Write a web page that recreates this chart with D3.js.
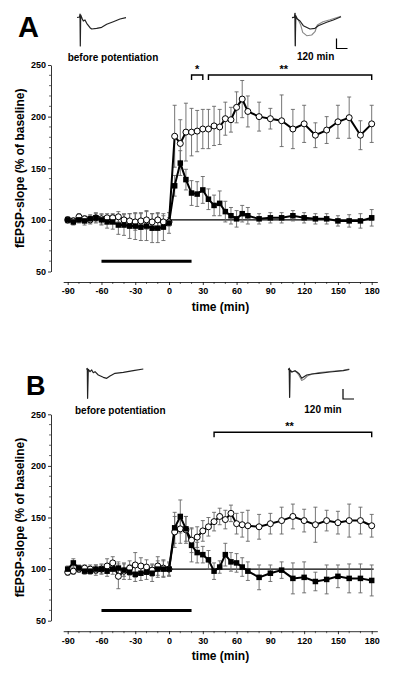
<!DOCTYPE html>
<html>
<head>
<meta charset="utf-8">
<script src="https://cdn.jsdelivr.net/npm/d3@7"></script>
<style>
  html, body { margin: 0; padding: 0; background: #fff; }
  svg { display: block; }
  text { font-family: "Liberation Sans", Arial, Helvetica, sans-serif; font-weight: bold; fill: #000; }
</style>
</head>
<body>
<svg id="chart" width="400" height="678"></svg>
<script>
// ---------- DATA ----------
const times = [-90,-85,-80,-75,-70,-65,-60,-55,-50,-45,-40,-35,-30,-25,-20,-15,-10,-5,0,
  5,10,15,20,25,30,35,40,45,50,55,60,65,70,80,90,100,110,120,130,140,150,160,170,180];

const xTickLabels = [-90,-60,-30,0,30,60,90,120,150,180];
const yTickLabels = [50,100,150,200,250];

// Panel A
const aSquares = [100,98,100,99,101,102,100,98,98,95,95,94,94,93,94,92,92,93,97,
  133,155,139,126,125,129,120,114,116,108,104,101,106,104,101,102,102,104,102,101,101,99,99,99,102];
const aSquaresErr = [3,3,3,4,4,5,5,6,7,9,10,12,13,13,14,14,14,13,10,
  10,12,10,12,12,13,10,10,12,10,8,8,8,8,5,5,5,5,5,5,5,5,6,7,8];
const aCircles = [100,99,103,101,100,102,101,102,102,103,100,99,98,99,100,98,100,98,98,
  181,174,185,185,186,188,188,191,190,198,197,209,217,205,200,198,196,188,193,182,187,195,199,182,193];
const aCirclesErr = [3,3,3,3,4,4,5,4,4,5,6,7,8,8,9,8,7,6,4,
  30,23,28,23,20,19,19,19,17,16,12,15,18,15,14,10,25,19,18,12,13,16,20,14,18];

// Panel B
const bSquares = [100,106,101,98,98,100,100,98,100,101,99,97,95,96,97,96,100,100,100,
  140,151,139,123,116,114,109,98,102,114,107,106,102,98,92,96,99,91,92,88,90,93,91,91,89];
const bSquaresErr = [3,4,3,3,3,4,4,5,5,6,6,7,7,7,7,8,8,8,7,
  15,16,12,16,10,8,9,8,6,11,9,9,9,9,12,8,8,15,15,9,14,11,14,14,15];
const bCircles = [97,98,100,101,100,99,100,103,106,93,98,101,104,103,102,99,103,101,100,
  136,139,138,128,131,137,141,146,151,148,154,144,143,142,141,144,147,151,147,143,147,145,147,147,142];
const bCirclesErr = [3,3,3,3,4,5,5,7,6,12,8,7,12,8,7,6,9,8,6,
  15,14,13,12,10,10,9,9,8,9,8,10,12,15,12,10,13,12,11,17,10,11,16,13,11];

// baseline reference, stimulation bar, significance brackets
const refLine = { from: 0, to: 180, value: 100 };
const stimBar = { from: -60, to: 20, value: 60 };
const aBrackets = [ { from: 20, to: 30, label: "*", labelAt: 25 }, { from: 35, to: 180, label: "**", labelAt: 102 } ];
const bBrackets = [ { from: 40, to: 180, label: "**", labelAt: 107 } ];

// Example fEPSP traces (relative ms, relative mV)
const aTraceBefore = [[-3,0],[-0.5,0.5],[0,3.5],[0.3,-28.5],[0.7,2.5],[2,-0.8],[3.3,-3.5],[5,-2.5],[6.7,-5.8],[10,-10.2],[11.7,-11.5],[16.7,-10.8],[21.7,-9.8],[26.7,-6.8],[33.3,-4.2],[40,-1.5],[46,-0.2]];
const aTraceAfterBase = [[-3,0],[-0.5,0.5],[0,4.4],[0.3,-28],[0.7,2],[2,-1],[5,-3.3],[8.3,-8],[15,-11.3],[20,-10.6],[23.3,-8],[31.7,-4.6],[38.3,-2.3],[46,1]];
const aTraceAfterPot = [[-3,0],[-0.5,0.5],[0,4.4],[0.3,-28],[0.7,2],[3.3,-2.3],[5.7,-7.3],[7.7,-14.6],[11.7,-18],[16.7,-17.3],[20,-14],[22.3,-7.3],[28,-4],[35,-2],[46,1.5]];
const bTraceBefore = [[-1,0],[0,1],[0.3,-29],[1,0],[2.7,-2.4],[4.4,-0.7],[6,-3.4],[7.7,-2.4],[11,-5.7],[16,-8],[19.4,-9],[22.7,-6.7],[27.7,-4],[36,-3],[46,-1.4],[56,0.3]];
const bTraceAfterBase = [[-1,0],[0,1.7],[0.3,-27.3],[0.7,0],[2.5,-2],[5.7,-0.7],[8,-2.3],[10,-4],[12.4,-8.3],[14.7,-6.7],[17.4,-5],[22.4,-4],[29,-3.3],[40.7,-2],[54,-0.7],[60,0.5]];
const bTraceAfterPot = [[-1,0],[0,1.7],[0.3,-27.3],[0.7,0],[2.5,-2],[5.7,-1],[8,-3],[10,-6],[12.4,-10.5],[15,-9],[18,-6],[23,-4],[30,-2.5],[40,-1.5],[54,-0.2],[60,1]];

// ---------- DRAWING ----------
const svg = d3.select("#chart");
const fmtTick = d => String(d); // plain hyphen-minus as in the original

function drawPanel(cfg) {
  const g = svg.append("g");
  const x = d3.scaleLinear().domain([-90, 180]).range([67.7, 371.7]);
  const y = d3.scaleLinear().domain([50, 250]).range([cfg.yBottom, cfg.yTop]);

  // y axis
  const yAxisX = 51;
  const yAx = g.append("g").attr("transform", `translate(${yAxisX},0)`)
    .call(d3.axisLeft(y).tickValues(yTickLabels).tickSize(3).tickSizeOuter(0).tickPadding(2).tickFormat(fmtTick));
  yAx.selectAll("text").style("font-size", "9px").style("font-family", "Liberation Sans, Arial, sans-serif").style("font-weight", "bold");
  yAx.select(".domain").attr("stroke-width", 0.8);
  yAx.selectAll(".tick line").attr("stroke-width", 0.8);
  const yMinor = d3.range(50, 251, 10).filter(v => v % 50 !== 0);
  g.append("g").selectAll("line").data(yMinor).join("line")
    .attr("x1", yAxisX - 2).attr("x2", yAxisX).attr("y1", d => y(d)).attr("y2", d => y(d))
    .attr("stroke", "#000").attr("stroke-width", 0.6);

  // x axis (line extends slightly past data range)
  const xAxisY = cfg.yBottom + 10.5;
  const xLine = x.copy().domain([-94, 185]).range([x(-94), x(185)]);
  const xAx = g.append("g").attr("transform", `translate(0,${xAxisY})`)
    .call(d3.axisBottom(xLine).tickValues(xTickLabels).tickSize(3).tickSizeOuter(0).tickPadding(3).tickFormat(fmtTick));
  xAx.selectAll("text").style("font-size", "9px").style("font-family", "Liberation Sans, Arial, sans-serif").style("font-weight", "bold");
  xAx.select(".domain").attr("stroke-width", 0.8);
  xAx.selectAll(".tick line").attr("stroke-width", 0.8);
  const xMinor = d3.range(-90, 181, 10).filter(v => v % 30 !== 0);
  g.append("g").selectAll("line").data(xMinor).join("line")
    .attr("x1", d => x(d)).attr("x2", d => x(d)).attr("y1", xAxisY).attr("y2", xAxisY + 2)
    .attr("stroke", "#000").attr("stroke-width", 0.6);

  // axis titles
  g.append("text").attr("transform", `translate(24,${(cfg.yTop + cfg.yBottom) / 2}) rotate(-90)`)
    .attr("text-anchor", "middle").style("font-size", "12px").text("fEPSP-slope (% of baseline)");
  g.append("text").attr("x", 220.5).attr("y", xAxisY + 29).attr("text-anchor", "middle")
    .style("font-size", "12px").text("time (min)");

  // panel letter & inset labels
  g.append("text").attr("x", cfg.letterX).attr("y", cfg.letterY).style("font-size", cfg.letterSize + "px").text(cfg.letter);
  g.append("text").attr("x", cfg.beforeX).attr("y", cfg.beforeY).style("font-size", "10px").text("before potentiation");
  g.append("text").attr("x", cfg.afterX).attr("y", cfg.afterY).style("font-size", "10px").text("120 min");

  // reference line and stimulation bar
  g.append("line").attr("x1", x(refLine.from)).attr("x2", x(refLine.to) + 2)
    .attr("y1", y(refLine.value)).attr("y2", y(refLine.value)).attr("stroke", "#000").attr("stroke-width", 1.4);
  g.append("line").attr("x1", x(stimBar.from)).attr("x2", x(stimBar.to))
    .attr("y1", y(stimBar.value)).attr("y2", y(stimBar.value)).attr("stroke", "#000").attr("stroke-width", 3);

  // brackets
  cfg.brackets.forEach(b => {
    const by = cfg.bracketY;
    g.append("path").attr("d", `M${x(b.from)},${by + 5}V${by}H${x(b.to)}V${by + 5}`)
      .attr("fill", "none").attr("stroke", "#000").attr("stroke-width", 1.4);
    g.append("text").attr("x", x(b.labelAt)).attr("y", by - 2).attr("text-anchor", "middle")
      .style("font-size", "11px").text(b.label);
  });

  // series
  const series = [
    { vals: cfg.circles, err: cfg.circlesErr, type: "circle" },
    { vals: cfg.squares, err: cfg.squaresErr, type: "square" }
  ];
  const line = d3.line().x(d => x(d.t)).y(d => y(d.v));
  series.forEach(s => {
    const pts = times.map((t, i) => ({ t, v: s.vals[i], e: s.err[i] }));
    const eb = g.append("g").attr("stroke", "#666").attr("stroke-width", 0.9);
    eb.selectAll("line.v").data(pts).join("line").attr("class", "v")
      .attr("x1", d => x(d.t)).attr("x2", d => x(d.t))
      .attr("y1", d => y(d.v - d.e)).attr("y2", d => y(d.v + d.e));
    eb.selectAll("line.t").data(pts).join("line").attr("class", "t")
      .attr("x1", d => x(d.t) - 2).attr("x2", d => x(d.t) + 2)
      .attr("y1", d => y(d.v + d.e)).attr("y2", d => y(d.v + d.e));
    eb.selectAll("line.b").data(pts).join("line").attr("class", "b")
      .attr("x1", d => x(d.t) - 2).attr("x2", d => x(d.t) + 2)
      .attr("y1", d => y(d.v - d.e)).attr("y2", d => y(d.v - d.e));
    s.pts = pts;
  });
  series.forEach(s => {
    g.append("path").datum(s.pts).attr("d", line).attr("fill", "none")
      .attr("stroke", "#000").attr("stroke-width", 2);
  });
  series.forEach(s => {
    if (s.type === "circle") {
      g.append("g").selectAll("circle").data(s.pts).join("circle")
        .attr("cx", d => x(d.t)).attr("cy", d => y(d.v)).attr("r", 3)
        .attr("fill", "#fff").attr("stroke", "#000").attr("stroke-width", 1);
    } else {
      const sz = 5.5;
      g.append("g").selectAll("rect").data(s.pts).join("rect")
        .attr("x", d => x(d.t) - sz / 2).attr("y", d => y(d.v) - sz / 2)
        .attr("width", sz).attr("height", sz).attr("fill", "#000");
    }
  });

  // inset traces
  function drawTrace(trace, ox, oy, color, w) {
    const tx = d3.scaleLinear().domain([0, 1]).range([ox, ox + 1]);
    const ty = d3.scaleLinear().domain([0, 1]).range([oy, oy - 1]);
    g.append("path").datum(trace)
      .attr("d", d3.line().x(d => tx(d[0])).y(d => ty(d[1])))
      .attr("fill", "none").attr("stroke", color).attr("stroke-width", w).attr("stroke-linejoin", "round");
  }
  drawTrace(cfg.traceBefore, cfg.tb[0], cfg.tb[1], "#222", 1.2);
  drawTrace(cfg.traceAfterPot, cfg.ta[0], cfg.ta[1], "#888", 1.1);
  drawTrace(cfg.traceAfterBase, cfg.ta[0], cfg.ta[1], "#222", 1.2);

  // scale bar
  g.append("path").attr("d", `M${cfg.sb[0]},${cfg.sb[1]}V${cfg.sb[1] + 10}H${cfg.sb[0] + 11}`)
    .attr("fill", "none").attr("stroke", "#000").attr("stroke-width", 1.2);
}

drawPanel({
  letter: "A", letterX: 18, letterY: 36.7, letterSize: 29,
  yTop: 65, yBottom: 271.5,
  beforeX: 67.7, beforeY: 61, afterX: 297, afterY: 59.5,
  bracketY: 75, brackets: aBrackets,
  squares: aSquares, squaresErr: aSquaresErr, circles: aCircles, circlesErr: aCirclesErr,
  traceBefore: aTraceBefore, traceAfterBase: aTraceAfterBase, traceAfterPot: aTraceAfterPot,
  tb: [80, 17.5], ta: [295, 17.7], sb: [336.5, 38.5]
});
drawPanel({
  letter: "B", letterX: 26, letterY: 395, letterSize: 27,
  yTop: 414.3, yBottom: 620.7,
  beforeX: 75, beforeY: 414, afterX: 304.3, afterY: 412.5,
  bracketY: 432.3, brackets: bBrackets,
  squares: bSquares, squaresErr: bSquaresErr, circles: bCircles, circlesErr: bCirclesErr,
  traceBefore: bTraceBefore, traceAfterBase: bTraceAfterBase, traceAfterPot: bTraceAfterPot,
  tb: [87.3, 369.3], ta: [289.3, 370], sb: [343, 389]
});
</script>
</body>
</html>
